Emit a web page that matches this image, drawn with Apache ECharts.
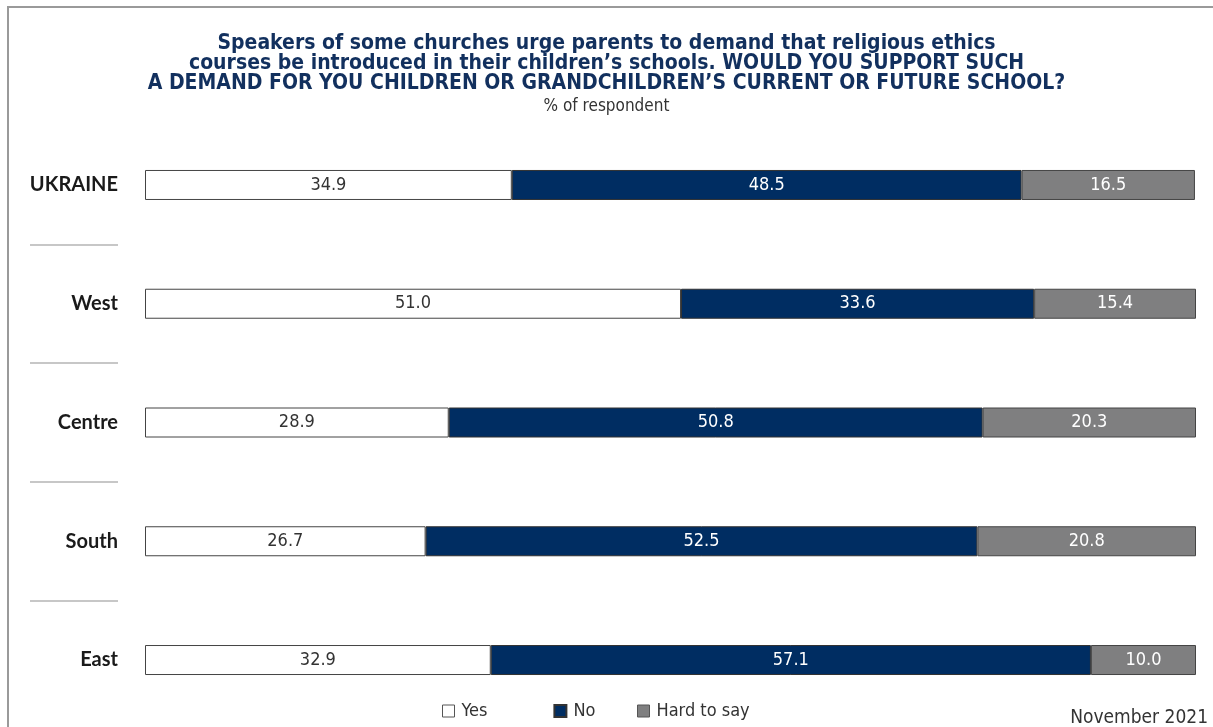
<!DOCTYPE html>
<html>
<head>
<meta charset="utf-8">
<script src="https://cdn.jsdelivr.net/npm/echarts@6/dist/echarts.min.js"></script>
<style>html,body{margin:0;padding:0;background:#fff}#c{width:1213px;height:727px}</style>
</head>
<body>
<div id="c"></div>
<script>
var categories = ['UKRAINE', 'West', 'Centre', 'South', 'East'];
var yesValues = [34.9, 51.0, 28.9, 26.7, 32.9];
var noValues = [48.5, 33.6, 50.8, 52.5, 57.1];
var hardValues = [16.5, 15.4, 20.3, 20.8, 10.0];
var seriesNames = ['Yes', 'No', 'Hard to say'];
var separatorTicks = ['a', 'b', 'c', 'd'];

var FONT = '"Liberation Sans Narrow", "DejaVu Sans Condensed", sans-serif';
var chart = echarts.init(document.getElementById('c'), null, {renderer: 'canvas'});

function barSeries(name, data, color, textColor, borderColor) {
  return {
    name: name, type: 'bar', stack: 'total', data: data, barWidth: 30,
    xAxisIndex: 0, yAxisIndex: 0,
    itemStyle: {color: color, borderColor: borderColor, borderWidth: 1},
    label: {show: true, position: 'inside', color: textColor, fontFamily: FONT, fontSize: 18,
      formatter: function (p) { return p.value.toFixed(1); }},
    emphasis: {disabled: true}
  };
}

var legendText = {fontFamily: FONT, fontSize: 18, color: '#333', padding: [0, 0, 0, 2]};

chart.setOption({
  animation: false,
  backgroundColor: '#fff',
  title: {
    text: 'Speakers of some churches urge parents to demand that religious ethics\ncourses be introduced in their children\u2019s schools. WOULD YOU SUPPORT SUCH\nA DEMAND FOR YOU CHILDREN OR GRANDCHILDREN\u2019S CURRENT OR FUTURE SCHOOL?',
    subtext: '% of respondent',
    left: 'center', top: 33.5, padding: 0, itemGap: 2,
    textStyle: {fontFamily: FONT, fontWeight: 'bold', fontSize: 21, lineHeight: 20, color: '#12305e', align: 'center'},
    subtextStyle: {fontFamily: FONT, fontSize: 17, color: '#333', lineHeight: 20, align: 'center'}
  },
  legend: [
    {
      data: [
        {name: 'Yes', itemStyle: {color: '#fff', borderColor: '#555', borderWidth: 1}},
        {name: 'No', itemStyle: {color: '#002d62'}}
      ],
      left: 437, bottom: 2, icon: 'rect', itemWidth: 12, itemHeight: 12, itemGap: 66,
      textStyle: legendText
    },
    {
      data: [
        {name: 'Hard to say', itemStyle: {color: '#7f7f80', borderColor: '#555', borderWidth: 1}}
      ],
      left: 632, bottom: 2, icon: 'rect', itemWidth: 12, itemHeight: 12,
      textStyle: legendText
    }
  ],
  grid: [
    {left: 145, right: 17, top: 125.6, bottom: 7.6},
    {left: 30, width: 88, top: 244.4, height: 356.25}
  ],
  xAxis: [
    {type: 'value', gridIndex: 0, min: 0, max: 100, show: false},
    {type: 'value', gridIndex: 1, min: 0, max: 1, show: false}
  ],
  yAxis: [
    {type: 'category', gridIndex: 0, data: categories, inverse: true,
      axisLine: {show: false}, axisTick: {show: false},
      axisLabel: {margin: 27, fontFamily: 'Lato, "Noto Sans", sans-serif', fontWeight: 'bold', fontSize: 20, color: '#1a1a1a'}},
    {type: 'category', gridIndex: 1, data: separatorTicks, boundaryGap: false,
      axisLine: {show: false}, axisTick: {show: false}, axisLabel: {show: false},
      splitLine: {show: true, lineStyle: {color: '#b5b5b5', width: 1.5}}}
  ],
  graphic: [
    {type: 'polyline', shape: {points: [[8, 727], [8, 7], [1213, 7]]},
      style: {stroke: '#9a9a9a', lineWidth: 2, fill: null}, silent: true},
    {type: 'text', right: 5, bottom: -1,
      style: {text: 'November 2021', fontFamily: FONT, fontSize: 19, fill: '#333'}}
  ],
  series: [
    barSeries(seriesNames[0], yesValues, '#ffffff', '#333', '#444'),
    barSeries(seriesNames[1], noValues, '#002d62', '#ffffff', '#333'),
    barSeries(seriesNames[2], hardValues, '#7f7f80', '#ffffff', '#444')
  ]
});
</script>
</body>
</html>
